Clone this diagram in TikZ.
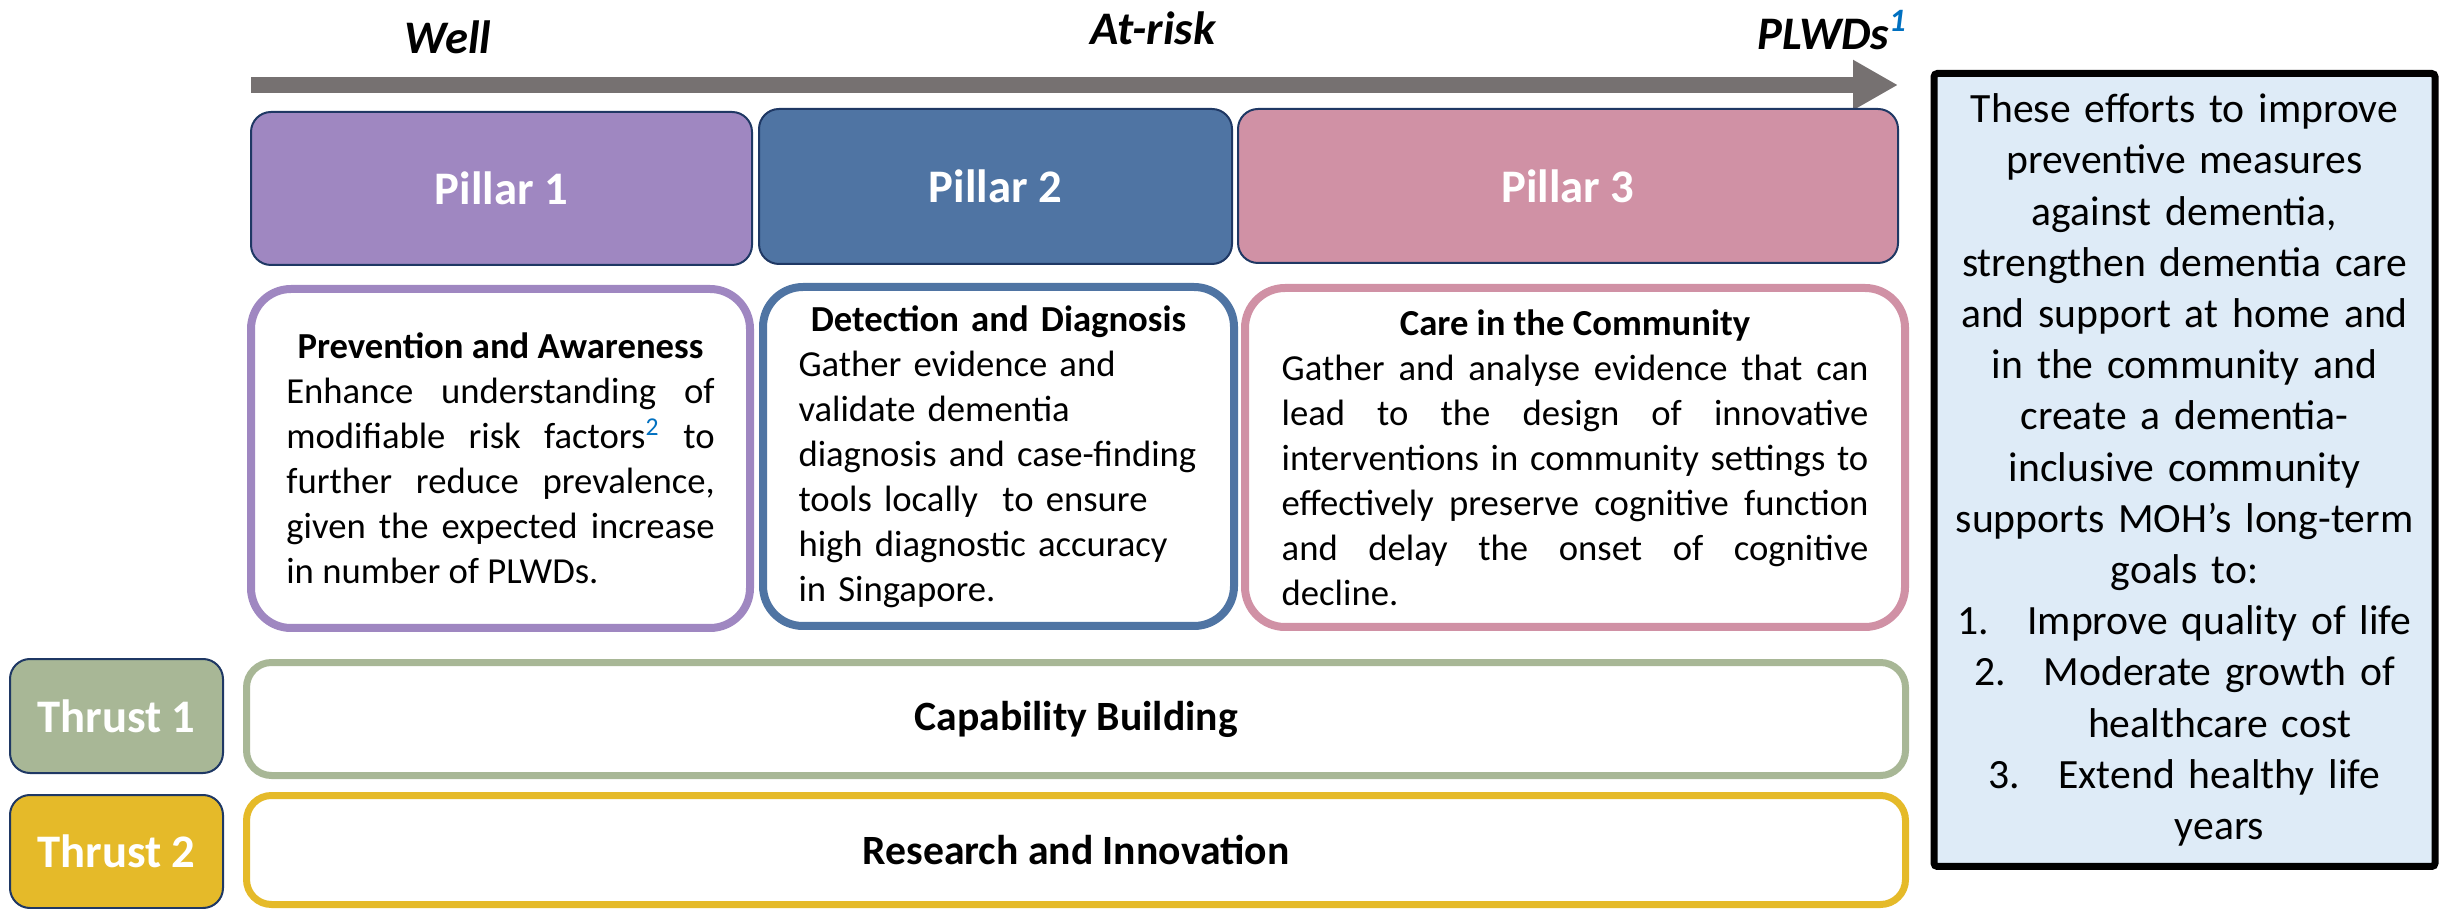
\documentclass[tikz,border=0pt]{standalone}
\usepackage{fontspec}
\setmainfont{Carlito}
\usepackage{xcolor}
\usetikzlibrary{arrows.meta}
\usetikzlibrary{positioning}

\definecolor{pillarone}{HTML}{9F87C1}
\definecolor{pillartwo}{HTML}{4F74A3}
\definecolor{pillarthree}{HTML}{D091A5}
\definecolor{navyline}{HTML}{1F3864}
\definecolor{thrustone}{HTML}{A8B796}
\definecolor{thrusttwo}{HTML}{E5BA29}
\definecolor{timegray}{HTML}{767171}
\definecolor{goalfill}{HTML}{DEEBF7}
\definecolor{supblue}{HTML}{0070C0}

\begin{document}
\begin{tikzpicture}[x=0.3pt,y=-0.3pt,font=\fontsize{11}{13.5}\selectfont]
	\tikzstyle{stage}=[inner sep=0pt, font=\fontsize{14}{16}\selectfont\bfseries\itshape]
	\tikzstyle{pillar}=[draw=navyline, line width=0.6pt, rounded corners=6pt, text=white, font=\fontsize{14}{16}\selectfont\bfseries]
	\tikzstyle{aim}=[draw, fill=white, line width=2.4pt, rounded corners=12pt, minimum height=101.7pt, inner sep=0pt]
	\tikzstyle{thrust}=[draw=navyline, line width=0.6pt, rounded corners=6pt, text=white, minimum width=63.9pt, font=\fontsize{14}{16}\selectfont\bfseries]
	\tikzstyle{band}=[draw, fill=white, line width=2.1pt, rounded corners=7.5pt, minimum width=497.7pt, font=\fontsize{12.5}{15}\selectfont\bfseries]
	\useasboundingbox (0,0) rectangle (2447,909);

	% timeline
	\coordinate (tstart) at (251,85);
	\coordinate (tend) at (1898,85);
	\draw[timegray, line width=4.8pt, -{Triangle[length=13.5pt, width=14.1pt]}] (tstart) -- (tend);
	\node[stage] (well) at (448,37) {Well};
	\node[stage] (atrisk) at (1153,28) {At-risk};
	\node[stage, anchor=east] (plwd) at (1908,30) {PLWDs\textsuperscript{\color{supblue}1}};

	% pillars
	\node[pillar, fill=pillarone, minimum width=150.3pt, minimum height=45.9pt] (p1) at (501.5,188.5) {Pillar 1};
	\node[pillar, fill=pillartwo, minimum width=141.9pt, minimum height=46.5pt] (p2) at (995.5,186.5) {Pillar 2};
	\node[pillar, fill=pillarthree, minimum width=198pt, minimum height=46.2pt] (p3) at (1568,186) {Pillar 3};

	% aims
	\node[aim, draw=pillarone, minimum width=149.7pt, text width=128.5pt, align=justify] (a1) at (500.5,458.5)
		{{\centering\bfseries Prevention and Awareness\par}\noindent Enhance understanding of\linebreak modifiable risk factors\textsuperscript{\color{supblue}2} to\linebreak further reduce prevalence,\linebreak given the expected increase\linebreak in number of PLWDs.};
	\node[aim, draw=pillartwo, minimum width=141.3pt, text width=120pt, align=left] (a2) at (998.5,456.5)
		{{\centering\bfseries Detection and Diagnosis\par}Gather evidence and\\validate dementia\\diagnosis and case-finding\\tools locally\ \ to ensure\\high diagnostic accuracy\\in Singapore.};
	\node[aim, draw=pillarthree, minimum width=198pt, text width=176pt, align=justify] (a3) at (1575,457.5)
		{{\centering\bfseries Care in the Community\par}\noindent Gather and analyse evidence that can\linebreak lead to the design of innovative\linebreak interventions in community settings to\linebreak effectively preserve cognitive function\linebreak and delay the onset of cognitive\linebreak decline.};

	% thrusts
	\node[thrust, fill=thrustone, minimum height=34.2pt] (t1) at (116.5,716) {Thrust 1};
	\node[thrust, fill=thrusttwo, minimum height=33.9pt] (t2) at (116.5,851.5) {Thrust 2};
	\node[band, draw=thrustone, minimum height=33.9pt] (b1) at (1076,719) {Capability Building};
	\node[band, draw=thrusttwo, minimum height=32.7pt] (b2) at (1076,850) {Research and Innovation};

	% goals
	\node[draw=black, fill=goalfill, line width=2.1pt, rounded corners=1pt, minimum width=150.3pt, minimum height=237.9pt,
		text width=145pt, align=center, inner sep=0pt, font=\fontsize{12.5}{15.36}\selectfont] (goals) at (2184.5,470)
		{These efforts to improve\\preventive measures\\against dementia,\\strengthen dementia care\\and support at home and\\in the community and\\create a dementia-\\inclusive community\\supports MOH’s long-term\\goals to:\\1.\hspace{11.4pt}Improve quality of life\\2.\hspace{11.4pt}Moderate growth of\\\hspace*{21pt}healthcare cost\\3.\hspace{11.4pt}Extend healthy life\\\hspace*{21pt}years};
\end{tikzpicture}
\end{document}
